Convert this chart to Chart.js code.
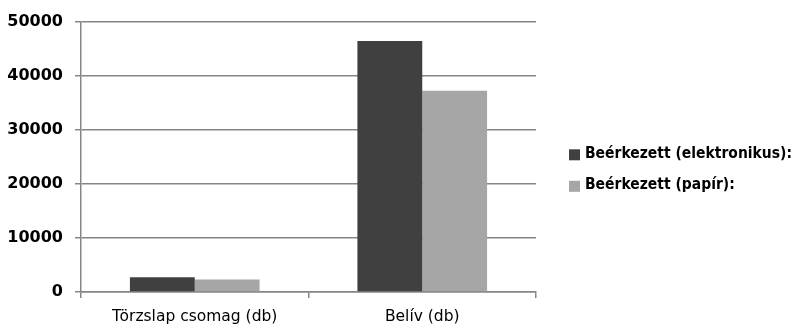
<!DOCTYPE html>
<html>
<head>
<meta charset="utf-8">
<script src="https://cdn.jsdelivr.net/npm/chart.js@4/dist/chart.umd.min.js"></script>
<style>
html,body{margin:0;padding:0;background:#fff;}
#wrap{width:801px;height:328px;position:relative;}
</style>
</head>
<body>
<div id="wrap"><canvas id="c" width="801" height="328"></canvas></div>
<script>
const categories = ["Törzslap csomag (db)", "Belív (db)"];
const seriesNames = ["Beérkezett (elektronikus):", "Beérkezett (papír):"];
const electronic = [2750, 46400];
const paper = [2300, 37200];
const yTicks = [0, 10000, 20000, 30000, 40000, 50000];
const seriesColors = ["#404040", "#a6a6a6"];

const gridColor = "#868686";

const sideLegend = {
  id: "sideLegend",
  afterDraw(chart) {
    const ctx = chart.ctx;
    const area = chart.chartArea;
    const x0 = area.right + 33;
    const yMid = (area.top + area.bottom) / 2;
    const rows = [yMid - 2, yMid + 29.5];
    ctx.save();
    ctx.font = "bold 15px 'DejaVu Sans'";
    const sx = 207 / ctx.measureText(chart.data.datasets[0].label).width;
    chart.data.datasets.forEach((ds, i) => {
      const y = rows[i];
      ctx.fillStyle = ds.backgroundColor;
      ctx.fillRect(x0, y - 5.5, 11, 11);
      ctx.fillStyle = "#000";
      ctx.textBaseline = "middle";
      ctx.save();
      ctx.translate(x0 + 16, y - 1);
      ctx.scale(sx, 1);
      ctx.fillText(ds.label, 0, 0);
      ctx.restore();
    });
    ctx.restore();
  }
};

new Chart(document.getElementById("c"), {
  type: "bar",
  data: {
    labels: categories,
    datasets: [
      { label: seriesNames[0], data: electronic, backgroundColor: seriesColors[0], borderWidth: 0 },
      { label: seriesNames[1], data: paper, backgroundColor: seriesColors[1], borderWidth: 0 }
    ]
  },
  plugins: [sideLegend],
  options: {
    responsive: false,
    animation: false,
    devicePixelRatio: 1,
    layout: { padding: { left: 0, right: 265, top: 20, bottom: 0 } },
    datasets: { bar: { categoryPercentage: 0.57, barPercentage: 1.0 } },
    plugins: {
      tooltip: { enabled: false },
      legend: { display: false }
    },
    scales: {
      x: {
        afterFit: (axis) => { axis.height = 36; },
        grid: { offset: true, drawOnChartArea: false, drawTicks: true, tickLength: 6, color: gridColor, lineWidth: 1.5 },
        border: { color: gridColor, width: 1.5 },
        ticks: { color: "#000", padding: 10, font: { family: "DejaVu Sans", size: 15.5 } }
      },
      y: {
        min: 0, max: 50000,
        afterFit: (axis) => { axis.width = 81; },
        afterBuildTicks: (axis) => { axis.ticks = yTicks.map(v => ({ value: v })); },
        grid: { color: gridColor, lineWidth: 1.5, drawTicks: true, tickLength: 6 },
        border: { color: gridColor, width: 1.5 },
        ticks: { color: "#000", padding: 12, callback: (v) => String(v), font: { family: "DejaVu Sans", size: 16, weight: "bold" } }
      }
    }
  }
});
</script>
</body>
</html>
